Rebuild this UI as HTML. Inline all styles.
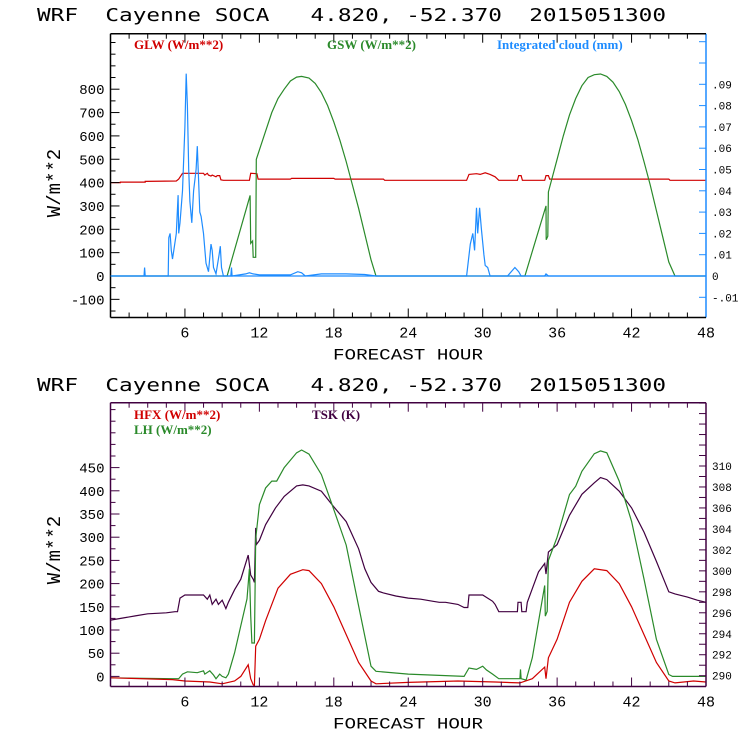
<!DOCTYPE html>
<html><head><meta charset="utf-8"><style>
html,body{margin:0;padding:0;background:#fff;width:740px;height:740px;overflow:hidden}
svg{display:block}
.t{font-family:"Liberation Mono",monospace;}
.ttl{font-family:"DejaVu Sans Mono","Liberation Mono",monospace;white-space:pre;font-weight:normal}
.lg{font-family:"Liberation Serif",serif;font-weight:bold;font-size:13px}
</style></head><body>
<svg id="c" width="740" height="740" xmlns="http://www.w3.org/2000/svg"></svg>
<script>
// ---- data (hour, value) ----
const glwH=[0,0.8,0.8,2.8,2.8,5.3,5.5,5.8,7.5,7.6,7.8,7.9,8.1,8.2,8.5,8.6,8.8,8.9,9.1,11.2,11.3,11.8,11.9,14.5,14.6,18,18.1,22,22.1,28.7,28.9,29.5,29.8,30.2,30.6,31,31.3,32.8,32.9,33.1,33.2,35,35.1,35.3,35.4,45,45.1,48];
const glwV=[400,400,402,402,405,407,415,440,440,432,440,432,428,432,425,430,430,412,410,410,440,438,415,415,418,418,415,415,410,410,435,438,435,442,435,425,410,410,430,430,410,410,430,430,415,415,410,410];
const gswH=[0,9.4,11.25,11.3,11.45,11.5,11.7,11.75,12,12.5,13,13.5,14,14.5,15,15.4,16,16.5,17,17.5,18,18.5,19,19.5,20,20.5,21,21.4,33.4,35.1,35.12,35.25,35.3,36,36.5,37,37.5,38,38.5,39,39.5,40,40.5,41,41.5,42,42.5,43,43.5,44,44.5,45,45.5,48];
const gswV=[0,0,345,140,150,80,80,500,540,620,700,760,800,835,852,855,848,825,785,730,660,580,490,390,290,180,70,0,0,300,155,170,360,500,600,690,760,815,850,862,865,855,830,790,735,665,585,490,390,280,170,60,0,0];
const cldH=[0,2.7,2.75,2.8,4.65,4.7,4.8,4.9,5.0,5.1,5.3,5.45,5.5,5.6,5.8,6.0,6.1,6.2,6.3,6.4,6.55,6.7,6.9,7.0,7.1,7.2,7.3,7.5,7.7,7.9,8.1,8.2,8.3,8.5,8.75,8.85,8.95,9.1,9.7,9.75,9.8,10.9,11.2,11.5,12,14.5,15.1,15.4,15.7,17,19,20.5,21.4,28.7,29.0,29.2,29.35,29.5,29.6,29.75,29.9,30.1,30.2,30.4,30.6,32,32.6,32.9,33.1,35,35.1,35.3,48];
const cldV=[0,0,.004,0,0,.018,.02,.012,.008,.012,.02,.038,.02,.025,.04,.07,.095,.08,.05,.035,.025,.04,.05,.061,.045,.03,.028,.02,.006,.002,.015,.012,.004,.001,.01,.014,.004,0,0,.004,0,.001,.0015,.001,.0005,.0005,.002,.0015,0,.001,.001,.0007,0,0,.015,.02,.012,.032,.02,.032,.022,.01,.005,.004,0,0,.004,.002,0,0,.001,0,0];
const tskH=[0,1,2,3,4.5,5.2,5.4,5.6,6,7.5,7.8,8,8.2,8.5,8.7,9,9.3,9.5,10,10.5,11.1,11.3,11.5,11.6,11.7,11.75,12,12.5,13.3,14,15,15.5,16,17,17.86,19,20,20.5,21,21.6,22,23,24,25,26,26.5,27,28,28.5,28.8,28.9,30,30.8,31,31.3,32.8,32.85,33.1,33.15,33.5,33.6,34,34.5,35,35.1,35.3,36,37,38,39,39.5,40,41,42,43,44,45,45.5,46.5,47.3,48];
const tskV=[295.3,295.5,295.7,295.9,296,296.1,296.1,297.4,297.7,297.7,297.3,297.7,296.8,297.3,296.8,297.2,296.4,297,298.2,299.2,301.5,299.6,299.2,298.9,304.1,302.5,302.9,304.4,306,307.1,308.1,308.2,308.1,307.6,306.3,304.7,302.1,300.2,298.9,298.05,297.9,297.6,297.4,297.3,297.1,297,297,296.8,296.5,296.5,297.7,297.7,297.1,296.8,296.1,296.1,297,297,296.1,296.1,297,298.3,299.9,300.7,299.7,301.8,302.5,305.3,307.3,308.4,308.9,308.7,307.6,306,303.7,300.9,298,297.8,297.5,297.2,297];
const lhH=[0,5,5.5,5.8,6.2,7,7.5,7.6,8,8.3,8.5,8.8,9,9.3,9.5,10,10.5,11,11.2,11.3,11.4,11.6,11.7,12,12.5,13,13.4,14,15,15.4,16,17,17.86,19,20,21,21.4,24,28.5,28.9,29.5,30,30.3,30.8,31.3,33,33.05,33.1,33.5,34,35,35.05,35.2,35.3,36,37,37.5,38,39,39.5,40,41,42,43,44,45,45.3,48];
const lhV=[-3,-5,-5,5,10,8,12,5,12,3,-5,5,0,-3,5,51,109,167,232,131,72,72,297,370,406,421,421,450,482,488,479,435,370,283,152,22,11,5,0,18,15,22,14,5,-5,-5,15,-5,-8,40,196,130,140,250,300,392,410,442,480,486,482,421,334,210,80,4,0,0];
const hfxH=[0,5,6,8,9,10,10.5,11.1,11.3,11.5,11.6,11.7,12,12.5,13.5,14.5,15.5,16,17,18,19,20,21,21.4,24,28,31,33,34,35,35.1,35.3,36,37,38,39,40,41,42,43,44,45,45.5,47,48];
const hfxV=[-3,-7,-10,-12,-16,-10,0,25,-5,-18,-20,65,80,120,190,220,230,228,200,150,90,30,-10,-16,-13,-10,-12,-14,-5,20,-5,40,80,160,205,232,228,200,150,90,30,-10,-14,-10,-12];
const xTicks=[6,12,18,24,30,36,42,48];
const topLeftTicks=[-100,0,100,200,300,400,500,600,700,800];
const topRightTicks=[-0.01,0,0.01,0.02,0.03,0.04,0.05,0.06,0.07,0.08,0.09];
const topRightLabels=["-.01","0",".01",".02",".03",".04",".05",".06",".07",".08",".09"];
const botLeftTicks=[0,50,100,150,200,250,300,350,400,450];
const botRightTicks=[290,292,294,296,298,300,302,304,306,308,310];

const svg=document.getElementById('c');
const NS='http://www.w3.org/2000/svg';
function mk(tag,attrs,parent){const e=document.createElementNS(NS,tag);for(const k in attrs)e.setAttribute(k,attrs[k]);(parent||svg).appendChild(e);return e;}
const X0=110.5,X1=706;
const xs=h=>X0+(X1-X0)*h/48;

function panel(o){
  const g=mk('g',{});
  
  
  const t=mk('text',{x:37,y:o.titleY,'font-size':18,textLength:629,lengthAdjust:'spacingAndGlyphs',class:'ttl',fill:'#000'},g);
  t.setAttributeNS('http://www.w3.org/XML/1998/namespace','xml:space','preserve');
  t.textContent='WRF  Cayenne SOCA   4.820, -52.370  2015051300';
  
  
  o.series.forEach(s=>{
    const pts=s.h.map((h,i)=>xs(h).toFixed(1)+','+s.y(s.v[i]).toFixed(1)).join(' ');
    const p=mk('polyline',{points:pts,fill:'none',stroke:s.color,'stroke-width':1.2},g);
    
    
  });
  const L=mk('line',{x1:X0,y1:o.top,x2:X0,y2:o.bot,stroke:o.lc,'stroke-width':1.5},g);
  
  
  const R=mk('line',{x1:X1,y1:o.top,x2:X1,y2:o.bot,stroke:o.rc,'stroke-width':1.5},g);
  
  
  mk('line',{x1:X0,y1:o.top,x2:X1,y2:o.top,stroke:o.lc,'stroke-width':1.5},g);
  const B=mk('line',{x1:X0,y1:o.bot,x2:X1,y2:o.bot,stroke:o.lc,'stroke-width':1.5},g);
  
  
  for(let h=1.5;h<48;h+=1.5){const maj=(h%6===0);const len=maj?9:5;
    mk('line',{x1:xs(h),y1:o.bot,x2:xs(h),y2:o.bot-len,stroke:o.lc},g);
    mk('line',{x1:xs(h),y1:o.top,x2:xs(h),y2:o.top+len,stroke:o.lc},g);}
  xTicks.forEach(h=>{const t=mk('text',{x:xs(h),y:o.bot+20,'font-size':15,'text-anchor':'middle',class:'t'},g);t.textContent=h;
    });
  const xt=mk('text',{x:408,y:o.bot+42,'font-size':16,textLength:150,lengthAdjust:'spacingAndGlyphs','text-anchor':'middle',class:'t'},g);
  xt.textContent='FORECAST HOUR';
  
  
  for(let v=o.lMinStart;o.yl(v)>=o.top;v+=o.lMinor){const y=o.yl(v);if(y>o.bot)continue;
    const maj=o.lTicks.indexOf(v)>=0;mk('line',{x1:X0,y1:y,x2:X0+(maj?9:5),y2:y,stroke:o.lc},g);}
  o.lTicks.forEach(v=>{const t=mk('text',{x:X0-6,y:o.yl(v)+5,'font-size':14,'text-anchor':'end',class:'t'},g);t.textContent=v===0?'0':String(v);
    });
  for(let v=o.rMinStart;o.yr(v)>=o.top-0.5;v+=o.rStep){const y=o.yr(v);if(y>o.bot)continue;
    mk('line',{x1:X1,y1:y,x2:X1-7,y2:y,stroke:o.rc},g);}
  o.rTicks.forEach((v,i)=>{const t=mk('text',{x:X1+6,y:o.yr(v)+4,'font-size':11,class:'t'},g);t.textContent=o.rLabels[i];
    });
  const yt=mk('text',{x:0,y:0,'font-size':19,class:'t','text-anchor':'middle',transform:`translate(${o.ytX},${o.ytY}) rotate(-90)`},g);
  yt.textContent='W/m**2';
  
  
  o.legend.forEach(l=>{const t=mk('text',{x:l.x,y:l.y,fill:l.c,class:'lg'},g);t.textContent=l.t;
    });
}

const tTop=33.7,tBot=317.5;
const ylT=v=>276-v*0.2335;
const yrT=v=>276-v*2130;
panel({name:'radiation-panel',titleY:21,top:tTop,bot:tBot,lc:'#000',rc:'#1e8cff',yl:ylT,yr:yrT,
  lTicks:topLeftTicks,lMinor:50,lMinStart:-150,rTicks:topRightTicks,rLabels:topRightLabels,rStep:0.01,rMinStart:-0.01,
  ytX:60,ytY:183,
  series:[
    {name:'glw-line',h:glwH,v:glwV,y:ylT,color:'#d00000'},
    {name:'gsw-line',h:gswH,v:gswV,y:ylT,color:'#2a8a2a'},
    {name:'cloud-line',h:cldH,v:cldV,y:yrT,color:'#1e8cff'}],
  legend:[{x:134,y:49,c:'#d00000',t:'GLW (W/m**2)'},{x:327,y:49,c:'#2a8a2a',t:'GSW (W/m**2)'},{x:497,y:49,c:'#1e8cff',t:'Integrated cloud (mm)'}]});
const zl=mk('line',{x1:X0,y1:ylT(0),x2:X1,y2:ylT(0),stroke:'#1e8cff','stroke-width':1.2});



const bTop=402.7,bBot=686.5;
const ylB=v=>676.4-v*0.464;
const yrB=v=>675.7-(v-290)*10.485;
panel({name:'flux-panel',titleY:391,top:bTop,bot:bBot,lc:'#400040',rc:'#400040',yl:ylB,yr:yrB,
  lTicks:botLeftTicks,lMinor:25,lMinStart:-0,rTicks:botRightTicks,rLabels:botRightTicks.map(String),rStep:1,rMinStart:290,
  ytX:60,ytY:550,
  series:[
    {name:'tsk-line',h:tskH,v:tskV,y:yrB,color:'#400040'},
    {name:'lh-line',h:lhH,v:lhV,y:ylB,color:'#2a8a2a'},
    {name:'hfx-line',h:hfxH,v:hfxV,y:ylB,color:'#d00000'}],
  legend:[{x:134,y:419,c:'#d00000',t:'HFX (W/m**2)'},{x:134,y:434,c:'#2a8a2a',t:'LH  (W/m**2)'},{x:312,y:419,c:'#400040',t:'TSK (K)'}]});
</script>
</body></html>
